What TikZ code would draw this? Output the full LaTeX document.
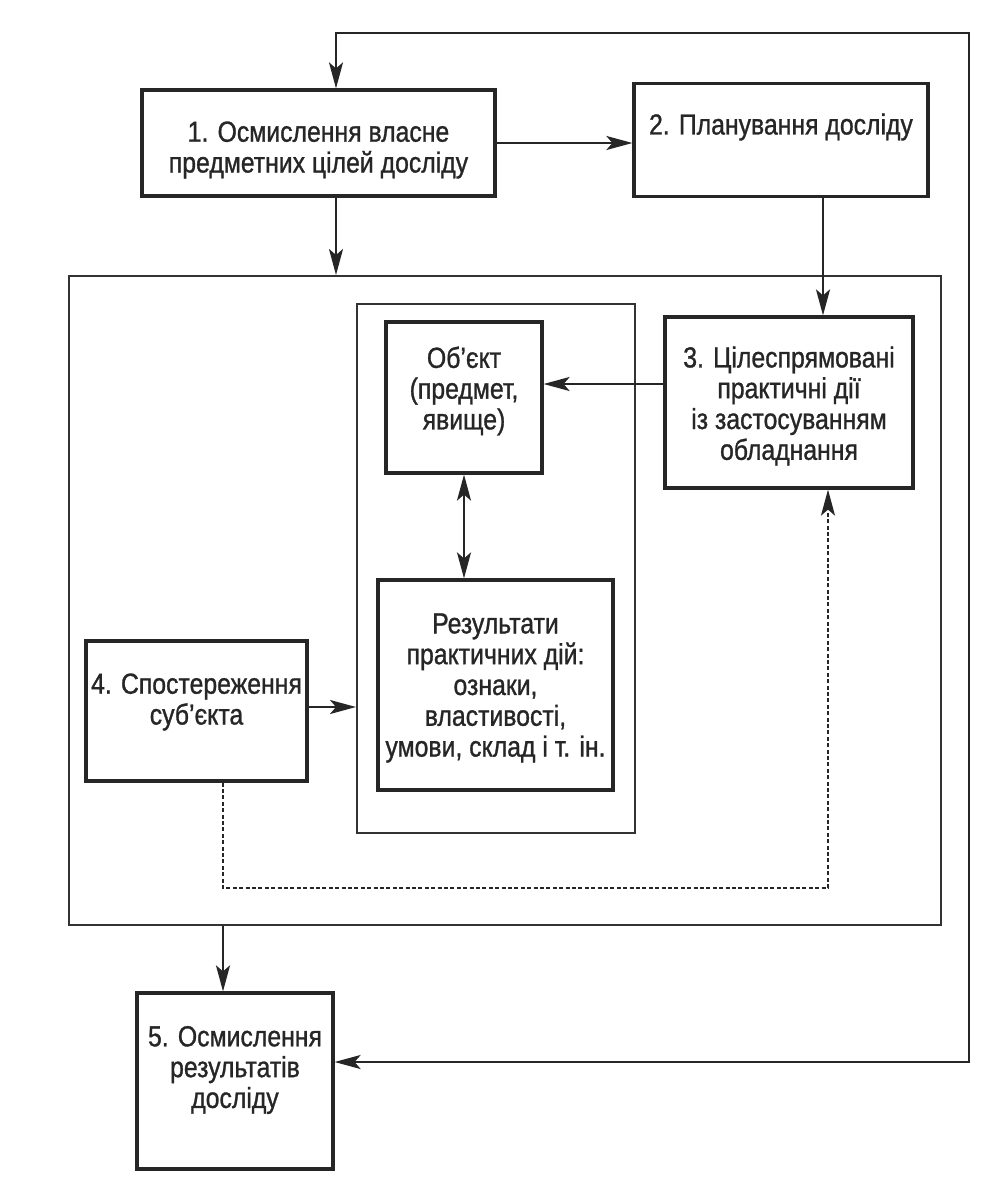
\documentclass[tikz,border=0pt]{standalone}
\usepackage{fontspec}
\setmainfont{Liberation Sans}
\newfontfamily\boxfont[FakeStretch=0.855,FakeBold=1]{Liberation Sans}
\usetikzlibrary{arrows.meta}
\tikzset{
  box/.style={draw=black!85, line width=1.6pt, inner sep=0pt},
  txt/.style={align=center, inner sep=0pt,
    font=\boxfont\fontsize{14.5}{15.4}\selectfont, text=black!85},
  frame/.style={draw=black!80, line width=1pt, inner sep=0pt},
  tip/.tip={Stealth[length=13pt,width=7pt,inset=3pt]},
  conn/.style={draw=black!85, line width=1.1pt, -tip},
  dconn/.style={draw=black!85, line width=0.9pt, dash pattern=on 2pt off 1.2pt, -tip}
}
\begin{document}
\begin{tikzpicture}[x=0.5pt,y=-0.5pt]
\useasboundingbox[fill=white] (0,0) rectangle (1000,1193);
% frames
\node[frame, minimum width=436pt, minimum height=324.5pt] (big) at (505,600.5) {};
\node[frame, minimum width=139pt, minimum height=264.5pt] (cont) at (496,568.5) {};
% boxes
\node[box, minimum width=176.5pt, minimum height=53pt] (b1) at (318.5,143) {};
\node[box, minimum width=147pt, minimum height=56.5pt] (b2) at (781,140) {};
\node[box, minimum width=78pt, minimum height=75.5pt] (obj) at (464,397.5) {};
\node[box, minimum width=124pt, minimum height=85.5pt] (b3) at (789,402.5) {};
\node[box, minimum width=117.5pt, minimum height=105pt] (res) at (495.5,685) {};
\node[box, minimum width=110.5pt, minimum height=70pt] (b4) at (196.5,711) {};
\node[box, minimum width=98pt, minimum height=88pt] (b5) at (235,1081) {};
% texts
\node[txt] (b1t) at (318.5,150) {1. Осмислення власне\\предметних цілей досліду};
\node[txt] (b2t) at (781,127) {2. Планування досліду};
\node[txt] (objt) at (464,391) {Об’єкт\\(предмет,\\явище)};
\node[txt] (b3t) at (789,406) {3. Цілеспрямовані\\практичні дії\\із застосуванням\\обладнання};
\node[txt] (rest) at (495.5,688) {Результати\\практичних дій:\\ознаки,\\властивості,\\умови, склад і т. ін.};
\node[txt] (b4t) at (196.5,702) {4. Спостереження\\суб’єкта};
\node[txt] (b5t) at (235,1070) {5. Осмислення\\результатів\\досліду};
% coordinates
\coordinate (tl) at (336,33);
\coordinate (tr) at (969,33);
\coordinate (br) at (969,1062);
\coordinate (c2) at (823,0);
\coordinate (r3) at (0,384);
\coordinate (r4) at (0,707);
\coordinate (d1) at (223,888);
\coordinate (d2) at (828,888);
% connectors
\draw[conn, tip-tip] (tl |- b1.north) -- (tl) -- (tr) -- (br) -- (b5.east |- br);
\draw[conn] (b1.east) -- (b1.east -| b2.west);
\draw[conn] (tl |- b1.south) -- (tl |- big.north);
\draw[conn] (c2 |- b2.south) -- (c2 |- b3.north);
\draw[conn] (b3.west |- r3) -- (obj.east |- r3);
\draw[conn, tip-tip] (obj.south) -- (obj.south |- res.north);
\draw[conn] (b4.east |- r4) -- (cont.west |- r4);
\draw[dconn] (b4.south -| d1) -- (d1) -- (d2) -- (d2 |- b3.south);
\draw[conn] (big.south -| d1) -- (d1 |- b5.north);
\end{tikzpicture}
\end{document}
